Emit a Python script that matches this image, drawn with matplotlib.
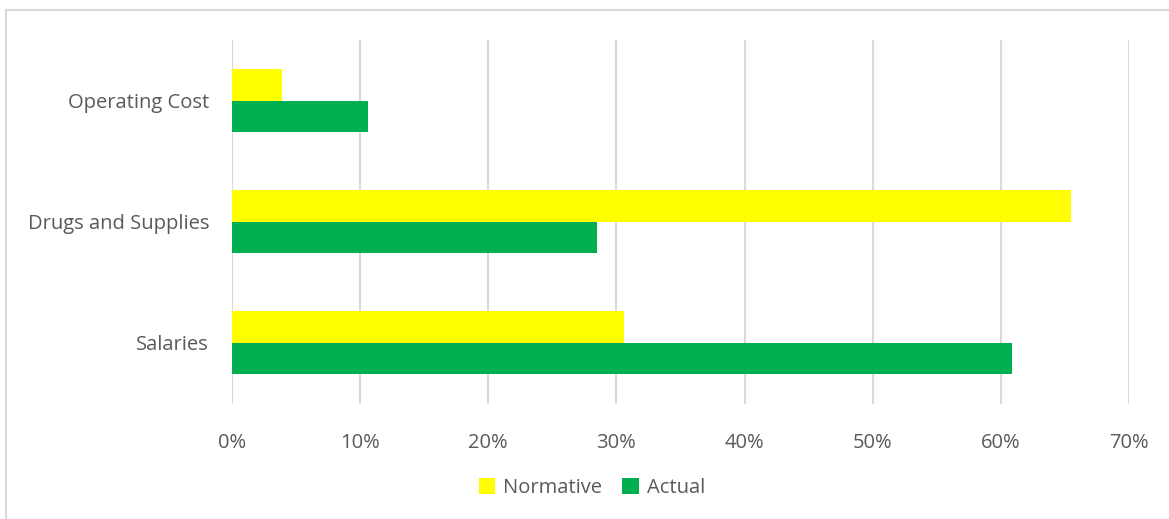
import matplotlib.pyplot as plt
import numpy as np
from matplotlib.lines import Line2D
from matplotlib.ticker import PercentFormatter

categories = ["Salaries", "Drugs and Supplies", "Operating Cost"]
normative = [30.6, 65.5, 3.9]
actual = [60.9, 28.5, 10.65]
xticks = np.arange(0, 71, 10)

plt.rcParams['font.family'] = ['Open Sans', 'DejaVu Sans']

fig = plt.figure(figsize=(11.69, 5.19), dpi=100)
ax = fig.add_axes([232 / 1169, 1 - 403.5 / 519, (1129 - 232) / 1169, (403.5 - 40) / 519])

y = np.arange(len(categories))
h = 0.26
ax.barh(y - h / 2, actual, height=h, color="#00b050", label="Actual", zorder=3)
ax.barh(y + h / 2, normative, height=h, color="#ffff00", label="Normative", zorder=3)

ax.set_xlim(0, 70)
ax.set_ylim(-0.5, 2.5)
ax.set_xticks(xticks)
ax.xaxis.set_major_formatter(PercentFormatter(decimals=0))
ax.set_yticks(y)
ax.set_yticklabels(categories)
ax.grid(axis="x", color="#d9d9d9", linewidth=1.5, zorder=0)
ax.tick_params(length=0, labelsize=14.5, colors="#595959", pad=16.5)
ax.tick_params(axis="x", pad=21)
for s in ax.spines.values():
    s.set_visible(False)

handles, labels = ax.get_legend_handles_labels()
fig.legend(handles[::-1], labels[::-1], loc="center", bbox_to_anchor=(592 / 1169, 1 - 488 / 519),
           ncol=2, frameon=False, fontsize=14.5, labelcolor="#595959",
           handlelength=0.8, handleheight=0.8, handletextpad=0.4, columnspacing=1.0)

# chart frame (only left and top edges visible in the crop)
fig.add_artist(Line2D([6 / 1169, 6 / 1169], [0, 1 - 10 / 519], transform=fig.transFigure,
                      color="#d9d9d9", linewidth=1.5))
fig.add_artist(Line2D([6 / 1169, 1], [1 - 10 / 519, 1 - 10 / 519], transform=fig.transFigure,
                      color="#d9d9d9", linewidth=1.5))

fig.savefig("out.png", dpi=100)
